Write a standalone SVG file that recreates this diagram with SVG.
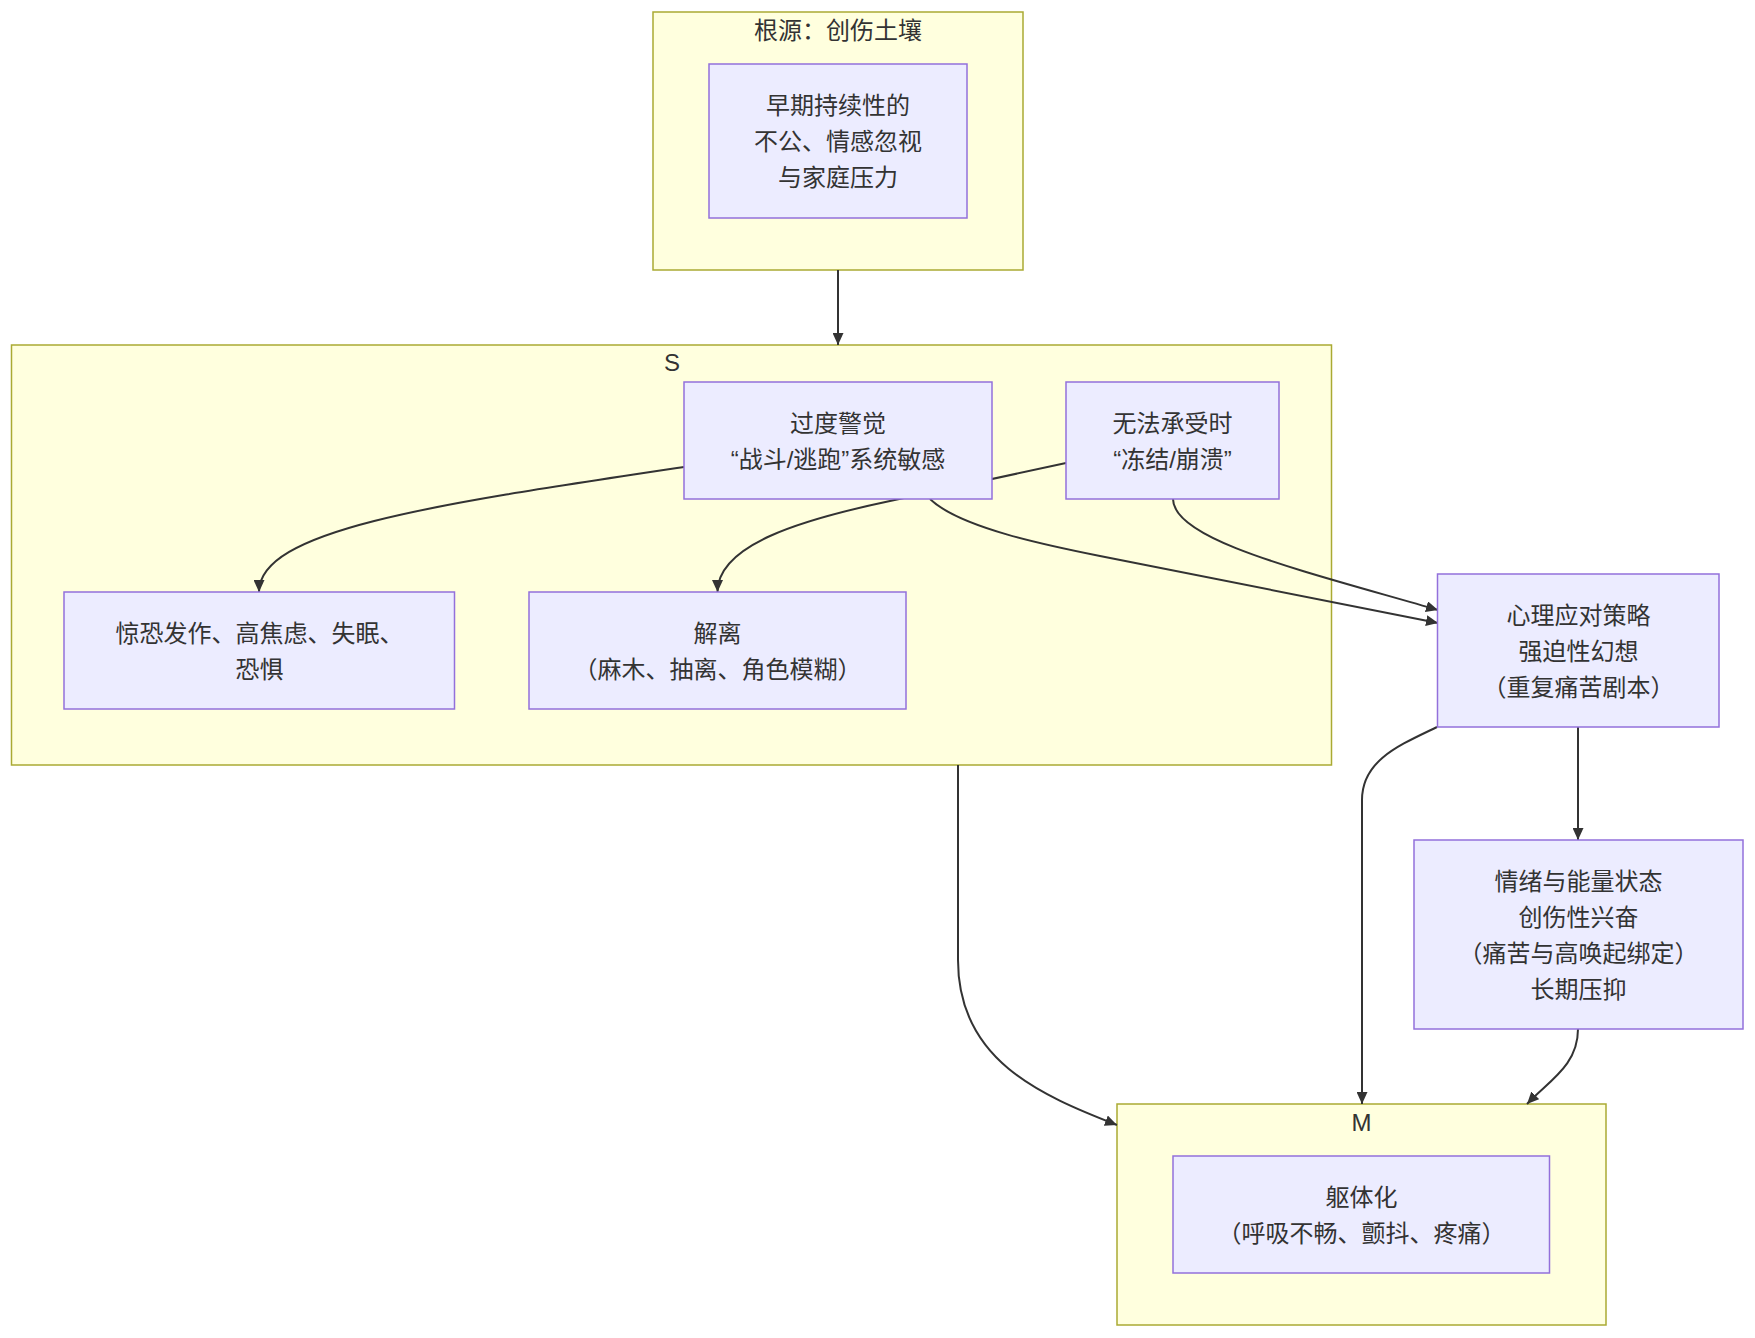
<svg xmlns="http://www.w3.org/2000/svg" width="1755" height="1338" viewBox="0 0 1755 1338">
<defs>
<style>
.cluster rect{fill:#ffffde;stroke:#aaaa33;stroke-width:1.5}
.node rect{fill:#ececff;stroke:#9370db;stroke-width:1.5}
text{font-family:"Liberation Sans","Noto Sans CJK SC",sans-serif;font-size:24px;fill:#333333;text-anchor:middle}
.edge{fill:none;stroke:#333333;stroke-width:2}
</style>
<marker id="arrow" viewBox="0 0 12 11" refX="12" refY="5.5" markerWidth="12" markerHeight="11" markerUnits="userSpaceOnUse" orient="auto">
<path d="M0,0 L12,5.5 L0,11 z" fill="#333333"/>
</marker>
</defs>
<rect width="1755" height="1338" fill="#ffffff"/>

<g id="cluster-root" class="cluster">
<rect x="653" y="12" width="370" height="258"/>
<text x="838" y="39">根源：创伤土壤</text>
</g>
<g id="cluster-S" class="cluster">
<rect x="11.5" y="345" width="1320" height="420"/>
<text x="672" y="371">S</text>
</g>
<g id="cluster-M" class="cluster">
<rect x="1117" y="1104" width="489" height="221"/>
<text x="1361.5" y="1131">M</text>
</g>

<g id="connectors">
<path class="edge" d="M838,270 L838,345" marker-end="url(#arrow)"/>
<path class="edge" d="M684,467 C430,505 259,530 259,592" marker-end="url(#arrow)"/>
<path class="edge" d="M1066,463 L890,501 C800,520 717.5,545 717.5,592" marker-end="url(#arrow)"/>
<path class="edge" d="M930,499 C960,528 1050,546 1100,556 L1438,623" marker-end="url(#arrow)"/>
<path class="edge" d="M1173,499 C1173,540 1300,570 1438,610" marker-end="url(#arrow)"/>
<path class="edge" d="M1437,727 C1400,745 1362,760 1362,800 L1362,1104" marker-end="url(#arrow)"/>
<path class="edge" d="M1578,727 L1578,840" marker-end="url(#arrow)"/>
<path class="edge" d="M1578,1029 C1578,1065 1550,1080 1527,1104" marker-end="url(#arrow)"/>
<path class="edge" d="M958,765 L958,960 C958,1060 1040,1095 1117,1125" marker-end="url(#arrow)"/>
</g>

<g id="node-A" class="node">
<rect x="709" y="64" width="258" height="154"/>
<text x="838" y="114">早期持续性的</text>
<text x="838" y="150">不公、情感忽视</text>
<text x="838" y="186">与家庭压力</text>
</g>
<g id="node-B" class="node">
<rect x="684" y="382" width="308" height="117"/>
<text x="838" y="431.5">过度警觉</text>
<text x="838" y="467.5">“战斗/逃跑”系统敏感</text>
</g>
<g id="node-C" class="node">
<rect x="1066" y="382" width="213" height="117"/>
<text x="1172.5" y="431.5">无法承受时</text>
<text x="1172.5" y="467.5">“冻结/崩溃”</text>
</g>
<g id="node-D" class="node">
<rect x="64" y="592" width="390.5" height="117"/>
<text x="259.5" y="641.5">惊恐发作、高焦虑、失眠、</text>
<text x="259.5" y="677.5">恐惧</text>
</g>
<g id="node-E" class="node">
<rect x="529" y="592" width="377" height="117"/>
<text x="717.5" y="641.5">解离</text>
<text x="717.5" y="677.5">（麻木、抽离、角色模糊）</text>
</g>
<g id="node-F" class="node">
<rect x="1437.5" y="574" width="281.5" height="153"/>
<text x="1578.5" y="623.5">心理应对策略</text>
<text x="1578.5" y="659.5">强迫性幻想</text>
<text x="1578.5" y="695.5">（重复痛苦剧本）</text>
</g>
<g id="node-G" class="node">
<rect x="1414" y="840" width="329" height="189"/>
<text x="1578.5" y="889.5">情绪与能量状态</text>
<text x="1578.5" y="925.5">创伤性兴奋</text>
<text x="1578.5" y="961.5">（痛苦与高唤起绑定）</text>
<text x="1578.5" y="997.5">长期压抑</text>
</g>
<g id="node-H" class="node">
<rect x="1173" y="1156" width="376.5" height="117"/>
<text x="1361.5" y="1205.5">躯体化</text>
<text x="1361.5" y="1241.5">（呼吸不畅、颤抖、疼痛）</text>
</g>
</svg>
